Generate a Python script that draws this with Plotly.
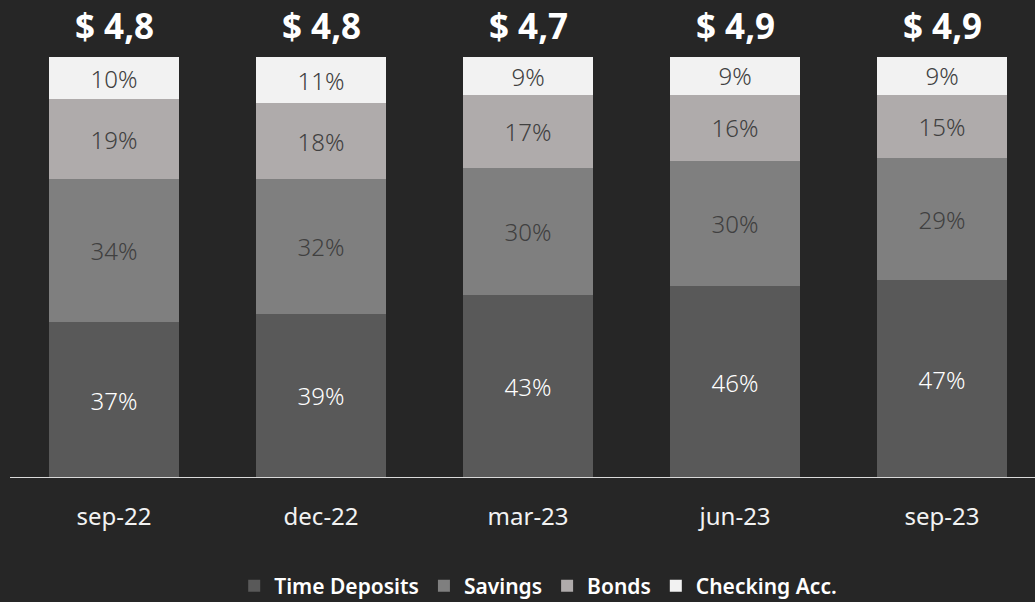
import plotly.graph_objects as go

# ── Data ──────────────────────────────────────────────────────────────────────
periods = ["sep-22", "dec-22", "mar-23", "jun-23", "sep-23"]
time_deposits = [37, 39, 43, 46, 47]
savings = [34, 32, 30, 30, 29]
bonds = [19, 18, 17, 16, 15]
checking = [10, 11, 9, 9, 9]
totals = ["$ 4,8", "$ 4,8", "$ 4,7", "$ 4,9", "$ 4,9"]

series = [
    ("Time Deposits", time_deposits, "#595959", "#ffffff"),
    ("Savings", savings, "#7f7f7f", "#404040"),
    ("Bonds", bonds, "#afabab", "#404040"),
    ("Checking Acc.", checking, "#f2f2f2", "#404040"),
]

BG = "#262626"
FONT = "Noto Sans"

fig = go.Figure()

for name, vals, color, txt_color in series:
    fig.add_trace(
        go.Bar(
            x=periods,
            y=vals,
            name=name,
            marker=dict(color=color, line=dict(width=0)),
            width=0.63,
            text=[f"{v}%" for v in vals],
            textposition="inside",
            insidetextanchor="middle",
            textangle=0,
            constraintext="none",
            insidetextfont=dict(family=FONT, size=24, color=txt_color, weight=300),
            hoverinfo="skip",
        )
    )

# Totals above each bar
for p, t in zip(periods, totals):
    fig.add_annotation(
        x=p, y=1, xref="x", yref="paper",
        text=f"<b>{t}</b>",
        showarrow=False,
        yanchor="bottom",
        yshift=6,
        font=dict(family=FONT, size=35, color="#ffffff"),
    )

# Baseline
fig.add_shape(
    type="line", xref="paper", yref="y",
    x0=10 / 1035, x1=1, y0=0, y1=0,
    line=dict(color="#d9d9d9", width=2),
)

fig.update_layout(
    template="none",
    barmode="stack",
    barnorm="percent",
    width=1035,
    height=602,
    paper_bgcolor=BG,
    plot_bgcolor=BG,
    margin=dict(l=0, r=0, t=57, b=124, autoexpand=False),
    xaxis=dict(
        range=[-0.551, 4.449],
        showgrid=False,
        zeroline=False,
        showline=False,
        ticks="",
        automargin=False,
        tickfont=dict(family=FONT, size=24, color="#f2f2f2"),
        ticklabelstandoff=22,
    ),
    yaxis=dict(
        range=[0, 100],
        visible=False,
        showgrid=False,
        zeroline=False,
        automargin=False,
    ),
    legend=dict(
        orientation="h",
        x=0.52,
        xanchor="center",
        xref="container",
        y=(602 - 586) / 602,
        yanchor="middle",
        yref="container",
        traceorder="normal",
        bgcolor="rgba(0,0,0,0)",
        font=dict(family=FONT, size=21, color="#ffffff", weight=600),
    ),
    showlegend=True,
)

fig.write_html(
    "out.html",
    config={"displayModeBar": False},
    post_script="document.body.style.margin='0';",
)
